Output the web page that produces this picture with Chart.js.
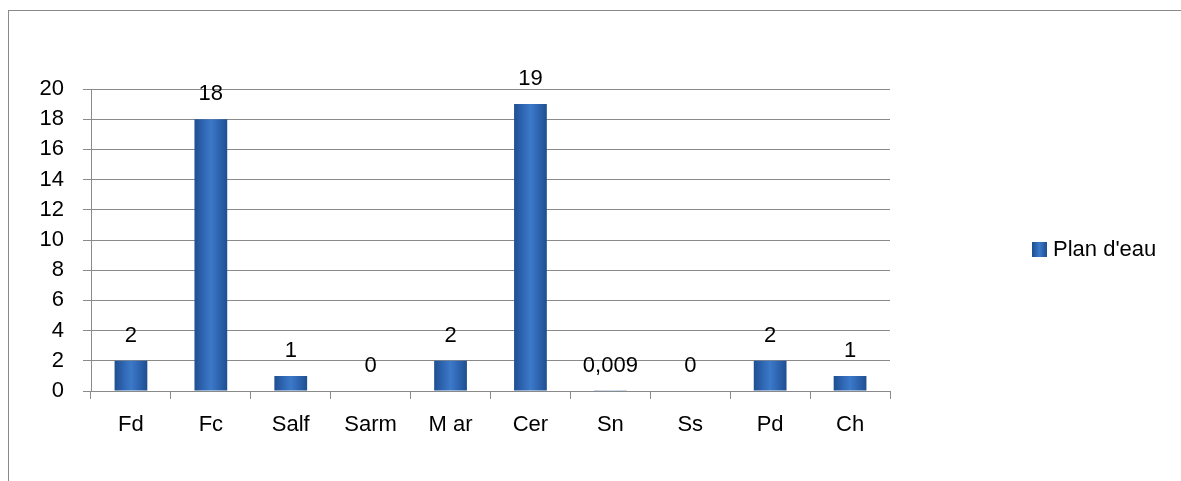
<!DOCTYPE html>
<html>
<head>
<meta charset="utf-8">
<script src="https://cdn.jsdelivr.net/npm/chart.js@4/dist/chart.umd.min.js"></script>
<style>
  html, body { margin: 0; padding: 0; background: #fff; }
  #frame { position: absolute; left: 8px; top: 10px; width: 1200px; height: 500px;
           border-left: 1px solid #8a8a8a; border-top: 1px solid #8a8a8a; }
  #wrap { position: absolute; left: 0; top: 0; width: 1181px; height: 481px; }
</style>
</head>
<body>
<div id="frame"></div>
<div id="wrap"><canvas id="myChart" width="1181" height="481"></canvas></div>
<script>
  // data
  const categories = ['Fd', 'Fc', 'Salf', 'Sarm', 'M ar', 'Cer', 'Sn', 'Ss', 'Pd', 'Ch'];
  const planDeau = [2, 18, 1, 0, 2, 19, 0.009, 0, 2, 1];
  const seriesName = "Plan d'eau";

  Chart.defaults.font.family = "'Liberation Sans', Arial, sans-serif";
  Chart.defaults.color = '#000';

  // horizontal gradient for each bar, darker at the edges
  function barFill(ctx) {
    const chart = ctx.chart;
    const xs = chart.scales.x;
    if (!xs || ctx.dataIndex === undefined) return '#2f65b0';
    const cx = xs.getPixelForValue(ctx.dataIndex);
    if (!isFinite(cx)) return '#2f65b0';
    const g = chart.ctx.createLinearGradient(cx - 17, 0, cx + 17, 0);
    g.addColorStop(0, '#1d4d8e');
    g.addColorStop(0.3, '#3068b5');
    g.addColorStop(0.5, '#3c79c9');
    g.addColorStop(0.7, '#3068b5');
    g.addColorStop(1, '#1d4d8e');
    return g;
  }

  // value labels above bars
  const valueLabels = {
    id: 'valueLabels',
    afterDatasetsDraw(chart) {
      const ctx = chart.ctx;
      const meta = chart.getDatasetMeta(0);
      ctx.save();
      ctx.font = "22px 'Liberation Sans', Arial, sans-serif";
      ctx.fillStyle = '#000';
      ctx.textAlign = 'center';
      ctx.textBaseline = 'alphabetic';
      meta.data.forEach((bar, i) => {
        const txt = String(planDeau[i]).replace('.', ',');
        ctx.fillText(txt, bar.x, bar.y - 19);
      });
      ctx.restore();
    }
  };

  // legend on the right, drawn by hand
  const sideLegend = {
    id: 'sideLegend',
    afterDraw(chart) {
      const ctx = chart.ctx;
      ctx.save();
      const g = ctx.createLinearGradient(1032, 0, 1047, 0);
      g.addColorStop(0, '#1d4d8e');
      g.addColorStop(0.5, '#3c79c9');
      g.addColorStop(1, '#1d4d8e');
      ctx.fillStyle = g;
      ctx.fillRect(1032, 242, 15, 15);
      ctx.fillStyle = '#000';
      ctx.font = "22px 'Liberation Sans', Arial, sans-serif";
      ctx.textBaseline = 'middle';
      ctx.textAlign = 'left';
      ctx.fillText(chart.data.datasets[0].label, 1053, 250);
      ctx.restore();
    }
  };

  const data = {
    labels: categories,
    datasets: [{
      label: seriesName,
      data: planDeau,
      backgroundColor: barFill,
      borderWidth: 0,
      categoryPercentage: 1,
      barPercentage: 0.41
    }]
  };

  const config = {
    type: 'bar',
    data,
    options: {
      responsive: false,
      animation: false,
      devicePixelRatio: 1,
      layout: { padding: { top: 89, right: 291, left: 0, bottom: 0 } },
      plugins: {
        legend: { display: false },
        tooltip: { enabled: false }
      },
      scales: {
        x: {
          offset: true,
          grid: { offset: true, drawOnChartArea: false, color: '#8a8a8a', tickLength: 8 },
          border: { color: '#8a8a8a' },
          ticks: { font: { size: 22 }, padding: 13, maxRotation: 0, autoSkip: false },
          afterFit(scale) { scale.height = 90; }
        },
        y: {
          min: 0,
          max: 20,
          ticks: { stepSize: 2, font: { size: 22 }, padding: 19 },
          grid: { color: '#8a8a8a', tickLength: 8 },
          border: { color: '#8a8a8a' },
          afterFit(scale) { scale.width = 91; }
        }
      }
    },
    plugins: [valueLabels, sideLegend]
  };

  var myChart = new Chart(document.getElementById('myChart'), config);
</script>
</body>
</html>
